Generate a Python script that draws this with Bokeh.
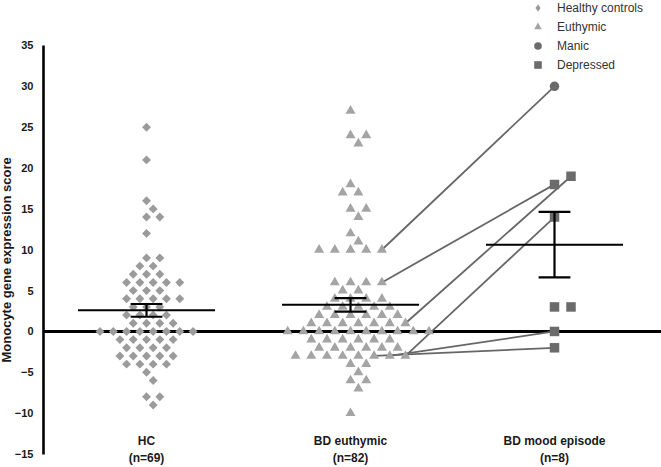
import math
import numpy as np
from bokeh.plotting import figure
from bokeh.models import (Range1d, FixedTicker, Span, Title,
                          Legend, LegendItem)
from bokeh.core.properties import value
from bokeh.embed import file_html
from bokeh.resources import INLINE

# ---------------- data ----------------
categories = ["HC", "BD euthymic", "BD mood episode"]

hc_scores = [25, 21, 16, 15, 14, 14, 12, 9, 9, 8, 8, 7, 7, 7,
             6, 6, 6, 6, 6, 5, 5, 5, 4, 4, 4, 4, 4, 3, 3, 3,
             2, 2, 2, 2, 1, 1, 1, 1, 0, 0, 0, 0, 0, 0, 0, 0,
             -1, -1, -1, -1, -1, -2, -2, -2, -2, -3, -3, -3, -3, -3,
             -4, -4, -4, -4, -5, -6, -8, -8, -9]

euthymic_scores = [27, 24, 24, 23, 18, 17, 17, 15, 15, 14, 12, 11,
                   10, 10, 10, 10, 10, 6, 6, 6, 6, 5, 5, 4, 4, 4, 4,
                   3, 3, 3, 3, 3, 2, 2, 2, 2, 2, 2, 1, 1, 1, 1, 1, 1, 1,
                   0, 0, 0, 0, 0, 0, 0, 0, 0, 0,
                   -1, -1, -1, -1, -1, -1, -2, -2, -2, -2, -2, -2,
                   -3, -3, -3, -3, -3, -3, -3, -3, -4, -4, -5, -6, -6, -7, -10]

mood_scores = [30, 18, 19, 14, 3, 3, 0, -2]
mood_states = ["Manic", "Depressed", "Depressed", "Depressed",
               "Depressed", "Depressed", "Depressed", "Depressed"]

# same patients: euthymic score -> mood-episode score
pair_euthymic = [10, 6, 1, -3, -3, -3]
pair_mood = [30, 18, 19, 14, 0, -2]

y_ticks = [-15, -10, -5, 0, 5, 10, 15, 20, 25, 30, 35]
y_title = "Monocyte gene expression score"
legend_labels = ["Healthy controls", "Euthymic", "Manic", "Depressed"]

# ---------------- layout constants ----------------
W, H = 661, 467
LEFT = 43
X_START, X_END = -0.505, 2.5245
Y_START, Y_END = -16.652, 40.507
PX_X = (W - LEFT) / (X_END - X_START)
PX_Y = H / (Y_END - Y_START)

FONT = "Liberation Sans"
C_LIGHT = "#9b9b9b"
C_TRI = "#a4a4a4"
C_DARK = "#6b6b6b"
C_TEXT = "#1a1a1a"


def swarm(vals, step_px, h_px):
    """beeswarm offsets (in category units) on a half-step grid"""
    cand = [0.0]
    for k in range(1, 60):
        cand += [k * 0.5, -k * 0.5]
    placed, res = [], []
    for v in vals:
        y = v * PX_Y
        for c in cand:
            x = c * step_px
            if all(((x - px) / step_px) ** 2 + ((y - py) / h_px) ** 2 >= 0.999
                   for px, py in placed):
                break
        placed.append((x, y))
        res.append(x / PX_X)
    return res


hc_x = [0 + o for o in swarm(hc_scores, 13.3, 8.8)]
eu_x = [1 + o for o in swarm(euthymic_scores, 15.7, 8.7)]
mo_x = [2 + o for o in swarm(mood_scores, 16.5, 9.6)]

# connecting lines (same patient in both states)
used = set()
xs, ys = [], []
for ev, mv in zip(pair_euthymic, pair_mood):
    cands = [i for i, v in enumerate(euthymic_scores) if v == ev and i not in used]
    i = max(cands, key=lambda k: eu_x[k])
    used.add(i)
    j = mood_scores.index(mv)
    xs.append([eu_x[i], mo_x[j]])
    ys.append([ev, mv])

# mean +/- SEM
groups = [hc_scores, euthymic_scores, mood_scores]
means = [float(np.mean(g)) for g in groups]
sems = [float(np.std(g, ddof=1) / math.sqrt(len(g))) for g in groups]
cat_x = [0, 1, 2]
MH, CH = 0.336, 0.078

p = figure(width=W, height=H, output_backend="svg", toolbar_location=None,
           x_range=Range1d(X_START, X_END), y_range=Range1d(Y_START, Y_END),
           x_axis_location=None, min_border_left=LEFT, min_border_right=0,
           min_border_top=0, min_border_bottom=0)
p.grid.visible = False
p.outline_line_color = None
p.background_fill_color = "white"

p.add_layout(Span(location=0, dimension="width", line_color="black",
                  line_width=3, level="underlay"))

ax = p.yaxis[0]
ax.bounds = (-15, 35)
ax.ticker = FixedTicker(ticks=y_ticks)
ax.axis_line_width = 2.6
ax.axis_line_color = "black"
ax.major_tick_line_color = None
ax.minor_tick_line_color = None
ax.major_tick_out = 0
ax.major_tick_in = 0
ax.axis_label_standoff = 0
ax.major_label_standoff = 10
ax.major_label_text_font = FONT
ax.major_label_text_font_style = "bold"
ax.major_label_text_font_size = "11px"
ax.major_label_text_color = C_TEXT

p.add_layout(Title(text=y_title, align="left", offset=105, standoff=-7,
                   vertical_align="middle",
                   text_font=FONT, text_font_style="bold",
                   text_font_size="13px", text_color=C_TEXT), "left")

p.multi_line(xs, ys, line_color="#666666", line_width=1.8)

r_hc = p.scatter(hc_x, hc_scores, marker="square", angle=math.pi / 4, size=6.3,
                 fill_color=C_LIGHT, line_color=None)
# legend key for the diamonds (a legend key is drawn unrotated)
r_hc_key = p.scatter([float("nan")], [float("nan")], marker="diamond", size=10,
                     fill_color=C_LIGHT, line_color=None)
r_eu = p.scatter(eu_x, euthymic_scores, marker="triangle", size=10,
                 fill_color=C_TRI, line_color=None)
man = [i for i, s in enumerate(mood_states) if s == "Manic"]
dep = [i for i, s in enumerate(mood_states) if s == "Depressed"]
r_man = p.scatter([mo_x[i] for i in man], [mood_scores[i] for i in man],
                  marker="circle", size=9.5, fill_color=C_DARK, line_color=None)
r_dep = p.scatter([mo_x[i] for i in dep], [mood_scores[i] for i in dep],
                  marker="square", size=9.5, fill_color=C_DARK, line_color=None)

# mean and SEM
p.segment([c - MH for c in cat_x], means, [c + MH for c in cat_x], means,
          line_color="black", line_width=2)
lo = [m - s for m, s in zip(means, sems)]
hi = [m + s for m, s in zip(means, sems)]
p.segment(cat_x, lo, cat_x, hi, line_color="black", line_width=2.2)
p.segment([c - CH for c in cat_x], hi, [c + CH for c in cat_x], hi,
          line_color="black", line_width=2.2)
p.segment([c - CH for c in cat_x], lo, [c + CH for c in cat_x], lo,
          line_color="black", line_width=2.2)

# category labels
n_labels = ["(n=%d)" % len(g) for g in groups]
p.text(cat_x, [-13.46] * 3, text=categories, text_align="center",
       text_baseline="middle", text_font=value(FONT), text_font_style="bold",
       text_font_size="12px", text_color=C_TEXT)
p.text(cat_x, [-15.5] * 3, text=n_labels, text_align="center",
       text_baseline="middle", text_font=value(FONT), text_font_style="bold",
       text_font_size="12px", text_color=C_TEXT)

legend = Legend(items=[LegendItem(label=legend_labels[0], renderers=[r_hc_key]),
                       LegendItem(label=legend_labels[1], renderers=[r_eu]),
                       LegendItem(label=legend_labels[2], renderers=[r_man]),
                       LegendItem(label=legend_labels[3], renderers=[r_dep])],
                location=(485, 393), orientation="vertical",
                glyph_width=19, glyph_height=19, label_height=19, spacing=0,
                padding=0, margin=0, label_standoff=10,
                label_text_font=FONT, label_text_font_size="12px",
                label_text_color="#333333", border_line_color=None,
                background_fill_alpha=0)
p.add_layout(legend)

open("out.html", "w").write(file_html(p, INLINE))
